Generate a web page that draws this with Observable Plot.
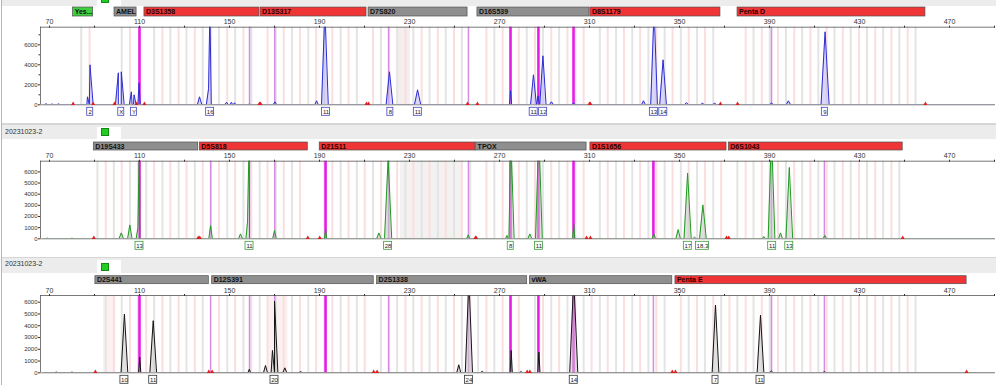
<!DOCTYPE html>
<html><head><meta charset="utf-8">
<script src="https://cdn.jsdelivr.net/npm/d3@7"></script>
<script src="https://cdn.jsdelivr.net/npm/@observablehq/plot@0.6"></script>
<style>
html,body{margin:0;padding:0;background:#fff;overflow:hidden;}
#root{width:1000px;height:385px;position:relative;overflow:hidden;font-family:"Liberation Sans",Arial,sans-serif;}
#root::before{content:"";position:absolute;left:1px;top:0;bottom:0;width:1px;background:#b5b5b5;z-index:5;}
.hdr{position:relative;background:#ececec;margin-left:2px;width:994px;font-size:7px;color:#333;overflow:hidden;}
.hdr .name{position:absolute;left:3px;}
.tab{position:absolute;left:95px;width:24px;background:#fff;bottom:0;}
.sq{position:absolute;left:4px;width:6px;height:6px;background:#22cc22;border:1px solid #138a13;}
.sep{background:#d6d6d6;margin-left:2px;width:994px;}
svg{display:block;}
</style></head><body><div id="root"></div>
<script>
// ---------- shared data ----------
const xDomain = [66, 490.444];
const majorTicks = [70,110,150,190,230,270,310,350,390,430,470];
const minorTicks = [90,130,170,210,250,290,330,370,410,450,490];
const ladder = [110,141.6,158.9,170.1,192.7,220.7,256.2,274.9,287.3,302.9,338.4,390.9,414.4];
const binSizes = [80.6,84.1,87.8,91.3,95.0,98.6,102.1,105.8,109.3,113.0,116.5,120.2,123.7,127.4,130.9,134.6,138.1,141.8,145.3,149.0,152.5,156.2,159.7,163.4,166.9,170.6,174.1,177.8,181.3,185.0,188.5,192.2,195.7,199.4,202.9,206.6,210.1,213.8,217.3,221.0,224.5,228.2,231.7,235.4,238.9,242.6,246.1,249.8,253.3,257.0,260.5,264.2,267.7,271.4,274.9,278.6,282.1,285.8,289.3,293.0,296.5,300.2,303.7,307.4,310.9,314.6,318.1,321.8,325.3,329.0,332.5,336.2,339.7,343.4,346.9,350.6,354.1,357.8,361.3,365.0,368.5,372.2,375.7,379.4,382.9,386.6,390.1,393.8,397.3,401.0,404.5,408.2,411.7,415.4,418.9,422.6,426.1,429.8,433.3,437.0,440.5,444.2,447.7,451.4,454.9];
const sampleName = "20231023-2";

// ---------- panel 1 (blue) ----------
const lociP1 = [
  {name:"Yes...", start:80.5, end:89.4, status:"pass"},
  {name:"AMEL", start:98.9, end:108.7, status:"ok"},
  {name:"D3S1358", start:112.2, end:163.3, status:"flag"},
  {name:"D13S317", start:163.8, end:210.9, status:"flag"},
  {name:"D7S820", start:211.8, end:255.8, status:"ok"},
  {name:"D16S539", start:260.2, end:310.0, status:"ok"},
  {name:"D8S1179", start:310.4, end:368.2, status:"flag"},
  {name:"Penta D", start:375.8, end:459.3, status:"flag"}
];
// [size bp, height RFU, half width bp]
const peaksP1 = [
  [68.5,100,0.8],[71.2,80,0.8],[74.0,90,0.8],[86.9,800,0.8],[88.0,4000,1.4],
  [100.6,3200,1.3],[101.9,3300,1.3],[106.4,1300,0.9],[107.6,1000,0.9],[109.8,2200,0.5],
  [136.7,800,1.0],[140.7,1600,1.2],[141.3,9500,1.6],[148.7,250,0.8],[150.9,250,0.8],[152.2,200,0.8],
  [158.9,80,0.6],[170.2,300,0.8],[188.7,400,0.8],[192.4,9500,1.5],
  [221.1,3300,1.5],[233.6,1500,1.4],[274.9,1400,0.5],
  [285.1,3000,1.3],[287.1,900,0.6],[289.3,4900,1.4],[293.1,300,0.9],[302.9,200,0.8],
  [334.0,400,0.9],[338.7,9500,1.5],[342.7,4500,1.5],[353.1,200,1.0],[360.2,150,1.0],[365.6,150,1.0],
  [390.9,200,0.8],[398.4,400,1.0],[414.7,7300,1.8]
];
const allelesP1 = [[88.1,"2"],[101.9,"X"],[107.5,"Y"],[141.4,"16"],[192.9,"11"],[221.5,"8"],[233.7,"11"],[285.2,"11"],[289.4,"12"],[338.6,"13"],[342.8,"14"],[414.6,"9"]];
const strongP1 = [110,274.9,287.3,302.9];
const lightP1 = [158.9,170.1,220.7,256.2,390.9];
const shadesP1 = [[225,230.4]];

// ---------- panel 2 (green) ----------
const lociP2 = [
  {name:"D19S433", start:89.7, end:136.1, status:"ok"},
  {name:"D5S818", start:136.8, end:184.8, status:"flag"},
  {name:"D21S11", start:190.1, end:259.3, status:"flag"},
  {name:"TPOX", start:259.6, end:308.7, status:"ok"},
  {name:"D1S1656", start:310.4, end:370.9, status:"flag"},
  {name:"D6S1043", start:371.9, end:449.2, status:"flag"}
];
const peaksP2 = [
  [69.0,60,0.8],[80.0,60,0.8],[101.9,530,1.0],[105.7,1240,1.0],[109.3,1000,0.8],[110.0,9500,1.5],
  [141.6,1180,0.8],[154.9,440,0.9],[158.0,1500,0.9],[158.8,9500,1.5],[170.0,740,0.8],[192.7,830,0.5],
  [216.4,530,1.0],[220.5,7200,1.6],[256.1,350,0.7],[273.4,300,0.8],[275.0,9500,1.5],
  [283.5,440,0.9],[287.5,9500,1.5],[303.0,1330,0.5],
  [338.6,440,0.8],[349.4,830,1.0],[353.6,5900,1.6],[356.7,150,0.8],[360.4,3040,1.5],
  [387.5,200,0.8],[390.9,9500,1.5],[394.9,530,0.9],[398.8,6400,1.5],[414.6,300,0.8]
];
const allelesP2 = [[110.0,"13"],[158.9,"11"],[220.5,"28"],[275.0,"8"],[287.5,"11"],[353.7,"17"],[360.2,"18.3"],[391.2,"11"],[398.8,"13"]];
const strongP2 = [110,192.7,274.9,287.3,302.9,338.4];
const lightP2 = [141.6,158.9,170.1,220.7,256.2,390.9,414.4];
const shadesP2 = [[226,254]];

// ---------- panel 3 (black) ----------
const lociP3 = [
  {name:"D2S441", start:90.4, end:140.8, status:"ok"},
  {name:"D12S391", start:142.3, end:214.1, status:"ok"},
  {name:"D2S1338", start:215.6, end:282.3, status:"ok"},
  {name:"vWA", start:283.5, end:346.8, status:"ok"},
  {name:"Penta E", start:348.2, end:477.6, status:"flag"}
];
const peaksP3 = [
  [73.0,60,0.8],[80.0,60,0.8],[103.3,5000,1.5],[110.1,1330,0.5],[116.1,4430,1.5],
  [158.8,300,0.6],[166.0,620,0.9],[169.1,1900,0.9],[170.0,6100,1.5],[174.6,420,0.9],[181.6,100,0.8],
  [251.9,680,0.9],[256.4,8000,1.6],[262.3,120,0.8],[275.2,1900,0.5],[279.5,100,0.8],[287.5,1750,0.5],
  [303.0,8000,1.8],[366.0,5760,1.5],[386.0,4900,1.5],[390.8,150,0.8],[414.4,100,0.8]
];
const allelesP3 = [[103.3,"10"],[116.1,"11"],[170.0,"20"],[256.4,"24"],[303.0,"14"],[366.0,"7"],[386.0,"11"]];
const strongP3 = [110,192.7,274.9,287.3,302.9];
const lightP3 = [141.6,158.9,170.1,220.7,256.2,338.4,390.9,414.4];
const shadesP3 = [[94,99.5],[167,176]];

// ---------- drawing ----------
const statusFill = {pass:"#3fcf3f", ok:"#8f8f8f", flag:"#ef3535"};
const font = "'Liberation Sans', Arial, sans-serif";

function buildTrace(peaks){
  const pts = [{x: xDomain[0] + 1.5, y: 0}, {x: xDomain[1] - 0.3, y: 0}];
  for (const [x, h, w] of peaks) pts.push({x: x - w, y: 0}, {x, y: h}, {x: x + w, y: 0});
  return pts.sort((a, b) => a.x - b.x);
}
const boxW = s => s.length >= 3 ? 13 : (s.length === 2 ? 8 : 6);

function panel(cfg){
  const root = document.getElementById("root");
  const hdr = document.createElement("div");
  hdr.className = "hdr";
  hdr.style.height = cfg.headerH + "px";
  if (cfg.sample){
    const n = document.createElement("div");
    n.className = "name"; n.textContent = cfg.sample; n.style.top = cfg.nameTop + "px";
    hdr.appendChild(n);
  }
  const tab = document.createElement("div");
  tab.className = "tab"; tab.style.top = cfg.tabTop + "px";
  const sq = document.createElement("div");
  sq.className = "sq"; sq.style.top = cfg.sqTop + "px";
  tab.appendChild(sq); hdr.appendChild(tab);
  root.appendChild(hdr);

  const strip = Plot.plot({
    width: 1000, height: cfg.stripH, marginLeft: 40, marginRight: 5,
    marginTop: cfg.stripMT, marginBottom: cfg.stripMB,
    x: {domain: xDomain, axis: null}, y: {axis: null},
    color: {type: "identity"},
    style: {fontFamily: font, background: "transparent"},
    marks: [
      Plot.rect(cfg.loci, {x1: "start", x2: "end", fill: d => statusFill[d.status], stroke: "#505050", strokeWidth: 0.7}),
      Plot.text(cfg.loci, {x: "start", text: "name", textAnchor: "start", dx: 1.5, fontSize: 7, fontWeight: "bold", fill: d => d.status === "flag" ? "#2a0000" : "#111"})
    ]
  });
  root.appendChild(strip);

  const trace = buildTrace(cfg.peaks);
  const markers = cfg.loci.flatMap(l => [l.start, l.end]);
  const bins = binSizes.filter(b => cfg.loci.some(l => b > l.start + 1 && b < l.end - 1));
  const main = Plot.plot({
    width: 1000, height: cfg.mainH, marginLeft: 40, marginRight: 5,
    marginTop: cfg.mt, marginBottom: cfg.mb,
    x: {domain: xDomain}, y: {domain: [0, cfg.ymax]},
    color: {type: "identity"},
    style: {fontFamily: font, fontSize: "7px", color: "#333", background: "transparent", overflow: "visible"},
    marks: [
      Plot.rect(cfg.shades, {x1: d => d[0], x2: d => d[1], fill: cfg.shadeColor}),
      Plot.ruleX(bins, {x: d => d, stroke: (d, i) => i % 2 ? "#f9dfdf" : "#e4e4e4", strokeWidth: 2}),
      Plot.ruleX(cfg.light, {x: d => d, stroke: "#d48de2", strokeWidth: 1.5}),
      Plot.ruleX(cfg.strong, {x: d => d, stroke: "#e81ee6", strokeWidth: 2.6}),
      Plot.areaY(trace, {x: "x", y: "y", fill: cfg.fill, fillOpacity: 0.55, clip: true}),
      Plot.line(trace, {x: "x", y: "y", stroke: cfg.color, strokeWidth: 1, clip: true}),
      Plot.ruleY([0], {stroke: "#666", strokeWidth: 0.8}),
      Plot.dot(markers, {x: d => d, y: 0, symbol: "triangle", r: 1.5, fill: "#e01e1e", stroke: null, dy: -1}),
      Plot.ruleY([cfg.ymax], {stroke: "#555", strokeWidth: 0.8}),
      Plot.ruleX([xDomain[0]], {y1: 0, y2: cfg.ymax, stroke: "#555", strokeWidth: 0.8}),
      Plot.axisX({anchor: "top", ticks: majorTicks, tickSize: 2, tickPadding: 1, fontSize: 7, label: null}),
      Plot.axisX({anchor: "top", ticks: minorTicks, tickSize: 2, tickFormat: () => "", label: null}),
      Plot.axisY({anchor: "left", ticks: cfg.yTicks, tickSize: 2, tickPadding: 1, fontSize: 6, tickFormat: "d", label: null}),
      Plot.axisY({anchor: "left", ticks: cfg.yMinor, tickSize: 1.5, tickFormat: () => "", label: null}),
      Plot.rect(cfg.alleles, {x1: d => d[0] - boxW(d[1]) / 4.5, x2: d => d[0] + boxW(d[1]) / 4.5, y1: 0, y2: 0, insetTop: 3, insetBottom: -11, fill: "white", stroke: cfg.boxColor, strokeWidth: 0.8}),
      Plot.text(cfg.alleles, {x: d => d[0], y: 0, dy: 7, text: d => d[1], fontSize: 6, fill: "#222"})
    ]
  });
  root.appendChild(main);

  if (cfg.sepH){
    const s = document.createElement("div");
    s.className = "sep"; s.style.height = cfg.sepH + "px";
    root.appendChild(s);
  }
}

panel({headerH: 6, sample: null, tabTop: 0, sqTop: -5,
  stripH: 11, stripMT: 1, stripMB: 1, loci: lociP1,
  mainH: 106, mt: 9.7, mb: 18.7, ymax: 7760,
  yTicks: [0,2000,4000,6000], yMinor: [1000,3000,5000,7000],
  peaks: peaksP1, alleles: allelesP1, strong: strongP1, light: lightP1, shades: shadesP1,
  color: "#2b2bd6", fill: "#bdb6f2", boxColor: "#4545c0", shadeColor: "#f5eeee", sepH: 2});

panel({headerH: 14, sample: sampleName, nameTop: 2.5, tabTop: 2, sqTop: 1.3,
  stripH: 13, stripMT: 3, stripMB: 2, loci: lociP2,
  mainH: 105, mt: 8.7, mb: 18.7, ymax: 6960,
  yTicks: [0,1000,2000,3000,4000,5000,6000], yMinor: [],
  peaks: peaksP2, alleles: allelesP2, strong: strongP2, light: lightP2, shades: shadesP2,
  color: "#1f9a1f", fill: "#c4c4c4", boxColor: "#3a9a3a", shadeColor: "#f4f1f1", sepH: 1});

panel({headerH: 15, sample: sampleName, nameTop: 2, tabTop: 2, sqTop: 2.7,
  stripH: 13, stripMT: 2.7, stripMB: 2.3, loci: lociP3,
  mainH: 99, mt: 9, mb: 12.7, ymax: 6570,
  yTicks: [0,1000,2000,3000,4000,5000,6000], yMinor: [],
  peaks: peaksP3, alleles: allelesP3, strong: strongP3, light: lightP3, shades: shadesP3,
  color: "#151515", fill: "#c8c8c8", boxColor: "#333", shadeColor: "#fcf0f0", sepH: 0});
</script></body></html>
